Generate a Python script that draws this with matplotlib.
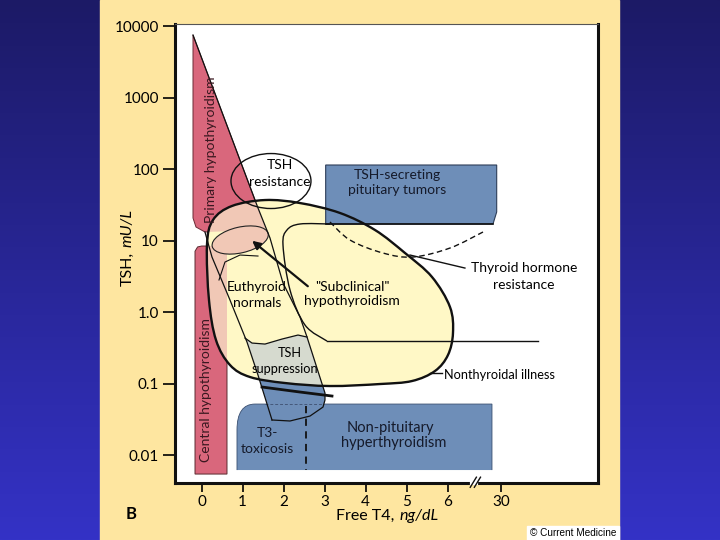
import numpy as np
import matplotlib
matplotlib.use('Agg')
import matplotlib.pyplot as plt
from matplotlib.path import Path
from matplotlib.patches import PathPatch, Ellipse, Rectangle, Polygon
from matplotlib.transforms import Affine2D, blended_transform_factory

plt.rcParams['font.family'] = ['Lato', 'DejaVu Sans']

# axis values: x = free T4 (30 sits after the break), y = log10(TSH)
x_ticks = [0, 1, 2, 3, 4, 5, 6, 7.3]
x_labels = ['0', '1', '2', '3', '4', '5', '6', '30']
y_ticks = [-2, -1, 0, 1, 2, 3, 4]
y_labels = ['0.01', '0.1', '1.0', '10', '100', '1000', '10000']

# region outlines (x = T4, y = log10 TSH)
primary_x = [-0.212, 1.373, 1.571, 0.080, -0.139, -0.212]
primary_y = [3.874, 1.455, 1.147, 1.119, 1.189, 1.315]

central_x = [-0.163, -0.163, -0.10, 0.0, 0.617, 0.617]
central_y = [-2.266, 0.85, 0.91, 0.923, 0.923, -2.266]

blob_x = [0.129, 0.276, 0.739, 1.544, 2.398, 3.373, 4.227, 4.959, 5.617, 6.056, 6.129,
          6.007, 5.690, 5.129, 4.349, 3.129, 2.032, 1.178, 0.690, 0.349, 0.178]
blob_y = [0.937, 1.287, 1.483, 1.566, 1.524, 1.385, 1.147, 0.825, 0.490, 0.070, -0.294,
          -0.601, -0.825, -0.965, -1.007, -1.035, -0.993, -0.909, -0.741, -0.392, 0.168]

band_right_x = [-0.212, 1.373, 1.666, 1.983, 2.398, 2.569, 3.007, 3.007]
band_right_y = [3.874, 1.455, 1.035, 0.406, -0.070, -0.350, -1.133, -1.231]
band_bottom_x = [3.007, 2.959, 2.641, 2.154, 1.715]
band_bottom_y = [-1.231, -1.329, -1.455, -1.524, -1.510]
band_left_x = [0.080, 0.251, 0.690, 1.105, 1.373, 1.715]
band_left_y = [1.119, 0.769, 0.168, -0.420, -0.881, -1.510]

supp_x = [1.056, 1.227, 1.544, 1.959, 2.349, 2.569, 3.007, 3.007, 1.471, 1.373, 1.105]
supp_y = [-0.364, -0.434, -0.448, -0.378, -0.322, -0.350, -1.133, -1.301, -1.301, -0.881, -0.420]

thr_x = [3.129, 2.398, 2.080, 1.983, 2.154, 2.520, 3.056, 8.20]
thr_y = [1.231, 1.231, 1.147, 0.937, 0.308, -0.182, -0.406, -0.406]
thr_dash_x = [3.129, 3.617, 4.422, 5.154, 6.056, 6.861]
thr_dash_y = [1.259, 1.007, 0.825, 0.769, 0.895, 1.119]

eu_top_x = [0.422, 0.568, 0.934, 1.373]
eu_top_y = [0.448, 0.699, 0.797, 0.783]

tumor_x = [3.024, 7.195, 7.195, 7.105, 3.024]
tumor_y = [2.056, 2.056, 1.399, 1.231, 1.231]

hyper_x = [0.861, 0.861, 0.861, 1.30, 7.08, 7.08]
hyper_y = [-2.210, -1.65, -1.287, -1.287, -1.287, -2.210]

sup_line_x = [1.471, 2.398, 3.178]
sup_line_y = [-1.049, -1.119, -1.175]

RED = '#d9677c'
BLUE = '#6e8eb8'
YEL = '#fff8c6'
GRAY = '#d6dacf'
SALMON = '#f1c8b6'


def smooth_path(xs, ys, closed=True):
    # catmull-rom through the read points, drawn as bezier segments
    pts = np.column_stack([xs, ys])
    n = len(pts)
    verts = [pts[0]]
    codes = [Path.MOVETO]
    segs = n if closed else n - 1
    for i in range(segs):
        p0 = pts[i - 1] if (closed or i > 0) else pts[i]
        p1 = pts[i]
        p2 = pts[(i + 1) % n]
        p3 = pts[(i + 2) % n] if (closed or i + 2 < n) else p2
        verts += [p1 + (p2 - p0) / 6, p2 - (p3 - p1) / 6, p2]
        codes += [Path.CURVE4] * 3
    if closed:
        verts.append(pts[0])
        codes.append(Path.CLOSEPOLY)
    return Path(verts, codes)


fig = plt.figure(figsize=(7.2, 5.4), dpi=100)

# background: blue gradient + cream panel
bg = fig.add_axes([0, 0, 1, 1])
bg.axis('off')
grad = np.linspace(0, 1, 256).reshape(-1, 1)
cmap = matplotlib.colors.LinearSegmentedColormap.from_list('bg', ['#1c1a66', '#3432c6'])
bg.imshow(grad, aspect='auto', cmap=cmap, extent=[0, 1, 0, 1], origin='upper')
bg.add_patch(Rectangle((100 / 720, 0), 519 / 720, 1, color='#fee6a0', zorder=2))
bg.add_patch(Rectangle((527 / 720, 0), 92 / 720, 14 / 540, color='white', zorder=3))
bg.text(530 / 720, 7 / 540, '\u00a9 Current Medicine', fontsize=7.2, family='Liberation Sans',
        va='center', ha='left', zorder=4)
bg.set_xlim(0, 1)
bg.set_ylim(0, 1)

ax = fig.add_axes([175 / 720, 1 - 482.7 / 540, 423 / 720, 458.7 / 540])
ax.set_facecolor('white')
ax.set_xlim(-0.651, 9.666)
ax.set_ylim(-2.387, 4.028)
ASPECT = (71.5 / 41)

# red regions
primary_xy = np.column_stack([primary_x, primary_y])
central_xy = np.column_stack([central_x, central_y])
ax.add_patch(Polygon(primary_xy, closed=True, fc=RED, ec='#6b2b35', lw=0.7, zorder=1))
ax.add_patch(Polygon(central_xy, closed=True, fc=RED, ec='#5a2a30', lw=0.7, zorder=1))

# lower blue part of the band
band_x = band_left_x[3:] + band_bottom_x[::-1][1:] + band_right_x[::-1][:3]
band_y = band_left_y[3:] + band_bottom_y[::-1][1:] + band_right_y[::-1][:3]
ax.add_patch(Polygon(np.column_stack([band_x, band_y]), closed=True, fc=BLUE, ec='none', zorder=1.5))

# nonthyroidal illness blob
blob = smooth_path(blob_x, blob_y)
blob_fill = PathPatch(blob, fc=YEL, ec='none', zorder=2)
ax.add_patch(blob_fill)

# where the red regions run into the blob they turn salmon
for xy in [primary_xy, central_xy]:
    over = Polygon(xy, closed=True, fc=SALMON, ec='none', zorder=2.2)
    ax.add_patch(over)
    over.set_clip_path(blob_fill)

# boxes
ax.add_patch(Polygon(np.column_stack([tumor_x, tumor_y]), closed=True, fc=BLUE,
                     ec='#2d3d58', lw=0.8, zorder=3))
hyper_codes = [Path.MOVETO, Path.LINETO, Path.CURVE3, Path.CURVE3, Path.LINETO, Path.LINETO]
ax.add_patch(PathPatch(Path(np.column_stack([hyper_x, hyper_y]), hyper_codes), fc=BLUE,
                       ec='#3a4f70', lw=0.6, zorder=1.4))
ax.plot([1.544, 2.959], [-1.287, -1.287], ls=(0, (3, 2)), color='#44587a', lw=0.7, zorder=3)
ax.plot([2.544, 2.544], [-1.315, -2.21], ls=(0, (4, 3)), color='#111', lw=1.3, zorder=4)

# TSH suppression, clipped to the blob
supp = Polygon(np.column_stack([supp_x, supp_y]), closed=True, fc=GRAY, ec='none', zorder=3)
ax.add_patch(supp)
supp.set_clip_path(blob_fill)
ax.plot(supp_x[:6], supp_y[:6], color='#111', lw=0.9, zorder=4)

# subclinical ellipse (tilted, drawn in screen-like units)
sub = Ellipse((0, 0), 1.40, 0.36 * ASPECT, angle=13, fc=SALMON, ec='#222', lw=0.8, zorder=3.5)
sub.set_transform(Affine2D().scale(1, 1 / ASPECT).translate(0.939, 1.007) + ax.transData)
ax.add_patch(sub)

# band outlines
ax.plot(band_right_x + band_bottom_x[1:], band_right_y + band_bottom_y[1:], color='#111', lw=0.9, zorder=4)
ax.plot(band_left_x, band_left_y, color='#111', lw=0.9, zorder=4)
ax.plot(eu_top_x, eu_top_y, color='#111', lw=0.8, zorder=4)
ax.plot(sup_line_x, sup_line_y, color='#111', lw=2.0, zorder=4)

# thyroid hormone resistance outline
ax.add_patch(PathPatch(smooth_path(thr_x[:7], thr_y[:7], closed=False), fc='none', ec='#111', lw=1.0, zorder=4))
ax.plot(thr_x[6:], thr_y[6:], color='#111', lw=1.0, zorder=4)
ax.add_patch(PathPatch(smooth_path(thr_dash_x, thr_dash_y, closed=False), fc='none', ec='#111',
                       lw=1.0, ls=(0, (4, 2.5)), zorder=4))
ax.plot([3.024, 7.105], [1.231, 1.231], color='#111', lw=1.2, zorder=4)

# blob outline and TSH resistance ellipse
ax.add_patch(PathPatch(blob, fc='none', ec='#111', lw=1.7, zorder=6))
ax.add_patch(Ellipse((1.690, 1.832), 1.951, 0.769, fc='none', ec='#111', lw=1.0, zorder=6))

# leaders + arrow
ax.plot([5.08, 6.42], [0.797, 0.615], color='#111', lw=1.0, zorder=6)
ax.plot([5.568, 5.861], [-0.853, -0.853], color='#111', lw=1.0, zorder=6)
ax.annotate('', xy=(1.178, 1.021), xytext=(2.641, 0.336),
            arrowprops=dict(arrowstyle='-|>', lw=1.6, color='#111', mutation_scale=12), zorder=7)

# labels
fs = 10
ax.text(0.227, 2.266, 'Primary hypothyroidism', rotation=90, ha='center', va='center', fontsize=fs, color='#3a1820', zorder=8)
ax.text(0.105, -1.091, 'Central hypothyroidism', rotation=90, ha='center', va='center', fontsize=fs, color='#3a1820', zorder=8)
ax.text(1.91, 2.056, 'TSH', ha='center', va='center', fontsize=fs, zorder=8)
ax.text(1.91, 1.818, 'resistance', ha='center', va='center', fontsize=fs, zorder=8)
ax.text(4.763, 1.916, 'TSH-secreting', ha='center', va='center', fontsize=fs, color='#151a2a', zorder=8)
ax.text(4.763, 1.706, 'pituitary tumors', ha='center', va='center', fontsize=fs, color='#151a2a', zorder=8)
ax.text(7.861, 0.615, 'Thyroid hormone', ha='center', va='center', fontsize=fs, zorder=8)
ax.text(7.861, 0.378, 'resistance', ha='center', va='center', fontsize=fs, zorder=8)
ax.text(1.349, 0.350, 'Euthyroid', ha='center', va='center', fontsize=fs, zorder=8)
ax.text(1.349, 0.126, 'normals', ha='center', va='center', fontsize=fs, zorder=8)
ax.text(3.666, 0.350, '"Subclinical"', ha='center', va='center', fontsize=fs, zorder=8)
ax.text(3.666, 0.160, 'hypothyroidism', ha='center', va='center', fontsize=fs, zorder=8)
ax.text(2.154, -0.573, 'TSH', ha='center', va='center', fontsize=fs * 0.92, zorder=8)
ax.text(2.032, -0.797, 'suppression', ha='center', va='center', fontsize=fs * 0.92, zorder=8)
ax.text(5.91, -0.881, 'Nonthyroidal illness', ha='left', va='center', fontsize=fs * 0.92, zorder=8)
ax.text(1.593, -1.692, 'T3-', ha='center', va='center', fontsize=fs, color='#151a2a', zorder=8)
ax.text(1.593, -1.916, 'toxicosis', ha='center', va='center', fontsize=fs, color='#151a2a', zorder=8)
ax.text(4.6, -1.622, 'Non-pituitary', ha='center', va='center', fontsize=fs * 1.05, color='#151a2a', zorder=8)
ax.text(4.68, -1.832, 'hyperthyroidism', ha='center', va='center', fontsize=fs * 1.05, color='#151a2a', zorder=8)

# axes styling
ax.set_xticks(x_ticks)
ax.set_xticklabels(x_labels, fontsize=11)
ax.set_yticks(y_ticks)
ax.set_yticklabels(y_labels, fontsize=11)
ax.tick_params(axis='y', length=8.5, width=1.2, pad=3)
ax.tick_params(axis='x', length=6.5, width=1.2, pad=2)
for s in ['left', 'bottom', 'right']:
    ax.spines[s].set_linewidth(2.2)
    ax.spines[s].set_color('#111')
ax.spines['top'].set_linewidth(0.8)
ax.spines['top'].set_color('#555')

# axis break on x
tr = blended_transform_factory(ax.transData, ax.transAxes)
ax.plot([6.60, 6.70], [-0.001, -0.001], color='white', lw=3, transform=tr, clip_on=False, zorder=9)
for dx in [0.0, 0.1]:
    ax.plot([6.55 + dx, 6.70 + dx], [-0.010, 0.012], color='#111', lw=1.0, transform=tr, clip_on=False, zorder=10)

# axis titles: regular part, then the italic unit right after it
renderer = fig.canvas.get_renderer()
t1 = fig.text(128 / 720, 1 - 286 / 540, 'TSH,', rotation=90, ha='center', va='bottom', fontsize=11.5)
top = t1.get_window_extent(renderer).y1
fig.text(128 / 720, (top + 5) / 540, 'mU/L', rotation=90, ha='center', va='bottom', fontsize=11.5, style='italic')
t2 = fig.text(336 / 720, 1 - 516 / 540, 'Free T4,', ha='left', va='center', fontsize=11.5)
right = t2.get_window_extent(renderer).x1
fig.text((right + 5) / 720, 1 - 516 / 540, 'ng/dL', ha='left', va='center', fontsize=11.5, style='italic')
fig.text(131 / 720, 1 - 514 / 540, 'B', ha='center', va='center', fontsize=12, weight='bold')

fig.savefig('out.png', dpi=100)
